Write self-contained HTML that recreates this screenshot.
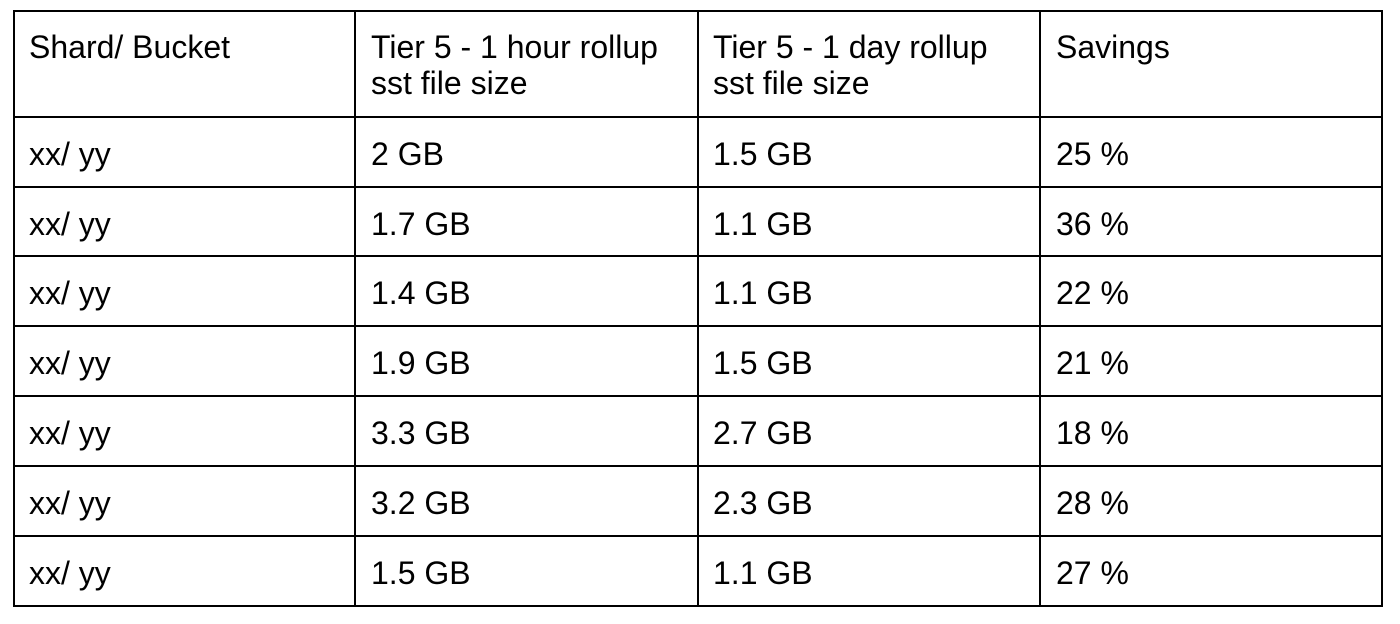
<!DOCTYPE html>
<html><head><meta charset="utf-8"><style>
html,body{margin:0;padding:0;background:#fff;}
body{width:1400px;height:624px;position:relative;overflow:hidden;font-family:"Liberation Sans",Arial,sans-serif;font-size:32px;color:#000;}
.h{position:absolute;left:13px;width:1370px;height:2px;background:#000;}
.v{position:absolute;top:10px;height:597px;width:2px;background:#000;}
.t{position:absolute;line-height:36px;white-space:nowrap;}
</style></head><body>
<div class="h" style="top:10px"></div>
<div class="h" style="top:116px"></div>
<div class="h" style="top:186px"></div>
<div class="h" style="top:255px"></div>
<div class="h" style="top:325px"></div>
<div class="h" style="top:395px"></div>
<div class="h" style="top:465px"></div>
<div class="h" style="top:535px"></div>
<div class="h" style="top:605px"></div>
<div class="v" style="left:13px"></div>
<div class="v" style="left:354px"></div>
<div class="v" style="left:697px"></div>
<div class="v" style="left:1039px"></div>
<div class="v" style="left:1381px"></div>

<div class="t" style="left:29px;top:29px">Shard/ Bucket</div>
<div class="t" style="left:371px;top:29px">Tier 5 - 1 hour rollup<br>sst file size</div>
<div class="t" style="left:713px;top:29px">Tier 5 - 1 day rollup<br>sst file size</div>
<div class="t" style="left:1056px;top:29px">Savings</div>

<div class="t" style="left:29px;top:136px">xx/ yy</div><div class="t" style="left:371px;top:136px">2 GB</div><div class="t" style="left:713px;top:136px">1.5 GB</div><div class="t" style="left:1056px;top:136px">25 %</div>
<div class="t" style="left:29px;top:206px">xx/ yy</div><div class="t" style="left:371px;top:206px">1.7 GB</div><div class="t" style="left:713px;top:206px">1.1 GB</div><div class="t" style="left:1056px;top:206px">36 %</div>
<div class="t" style="left:29px;top:275px">xx/ yy</div><div class="t" style="left:371px;top:275px">1.4 GB</div><div class="t" style="left:713px;top:275px">1.1 GB</div><div class="t" style="left:1056px;top:275px">22 %</div>
<div class="t" style="left:29px;top:345px">xx/ yy</div><div class="t" style="left:371px;top:345px">1.9 GB</div><div class="t" style="left:713px;top:345px">1.5 GB</div><div class="t" style="left:1056px;top:345px">21 %</div>
<div class="t" style="left:29px;top:415px">xx/ yy</div><div class="t" style="left:371px;top:415px">3.3 GB</div><div class="t" style="left:713px;top:415px">2.7 GB</div><div class="t" style="left:1056px;top:415px">18 %</div>
<div class="t" style="left:29px;top:485px">xx/ yy</div><div class="t" style="left:371px;top:485px">3.2 GB</div><div class="t" style="left:713px;top:485px">2.3 GB</div><div class="t" style="left:1056px;top:485px">28 %</div>
<div class="t" style="left:29px;top:555px">xx/ yy</div><div class="t" style="left:371px;top:555px">1.5 GB</div><div class="t" style="left:713px;top:555px">1.1 GB</div><div class="t" style="left:1056px;top:555px">27 %</div>
</body></html>
